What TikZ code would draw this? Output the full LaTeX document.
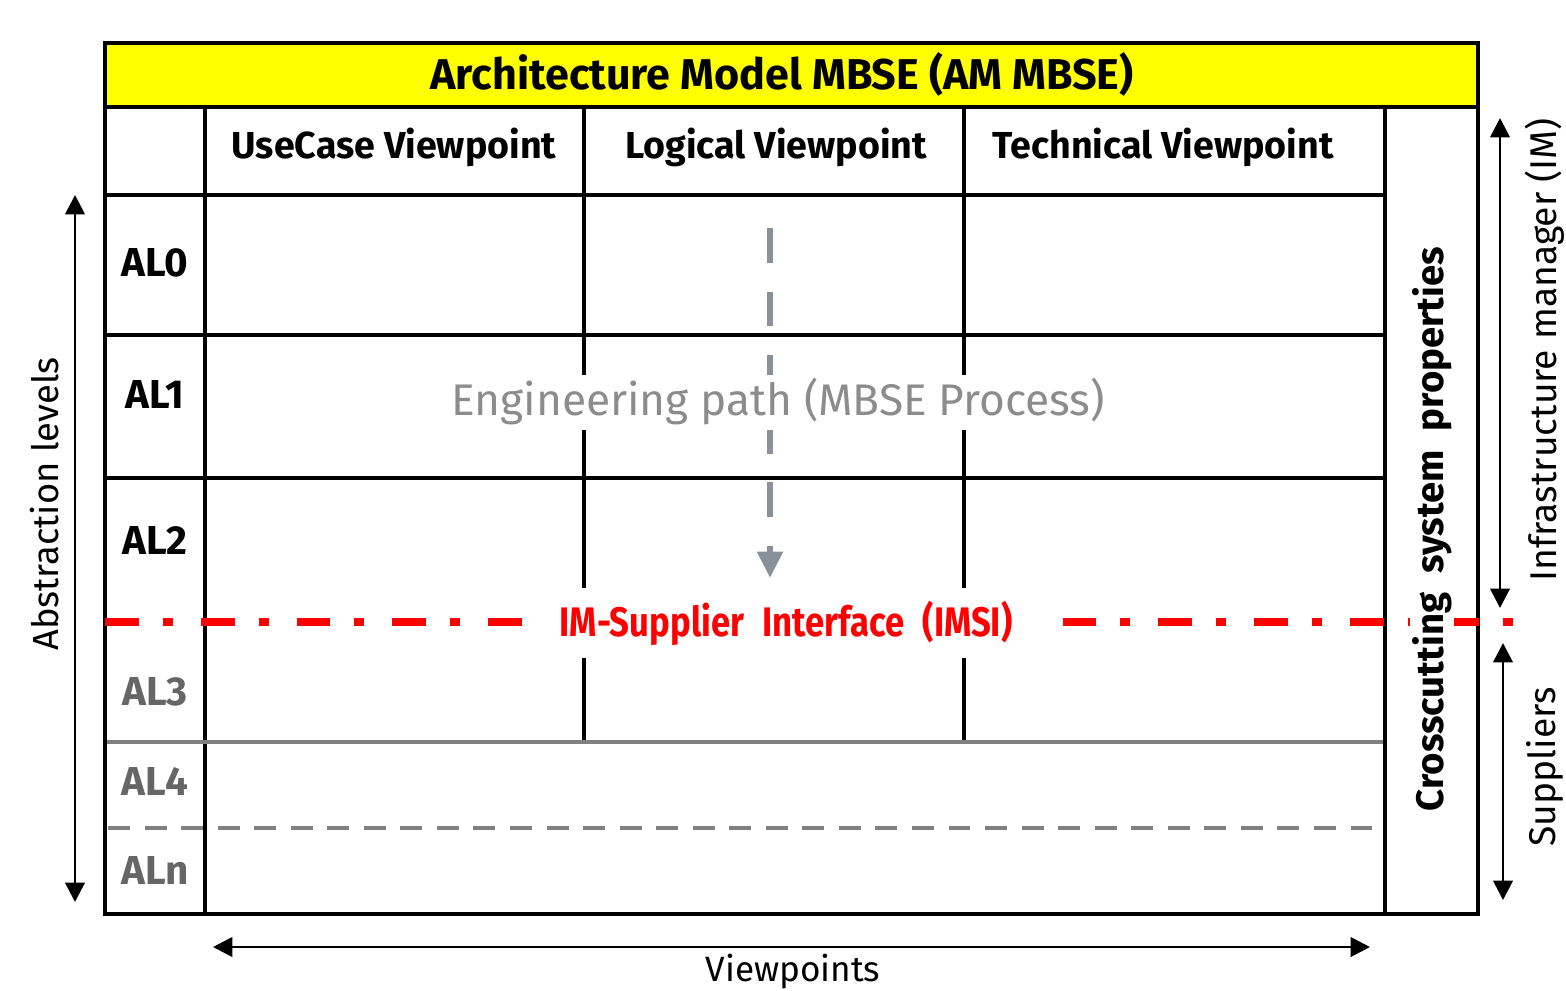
\documentclass[tikz,border=0pt]{standalone}
\usepackage{fontspec}
\setmainfont{Fira Sans}
\newfontfamily\condfont{Fira Sans}[FakeStretch=0.84]
\usetikzlibrary{arrows.meta}
\definecolor{titleyellow}{HTML}{FFFF00}
\definecolor{levelgray}{HTML}{666666}
\definecolor{linegray}{HTML}{808080}
\definecolor{pathgray}{HTML}{8A909A}
\definecolor{pathtext}{HTML}{8C8C8C}
\definecolor{imsired}{HTML}{FF0000}
\begin{document}
\begin{tikzpicture}[x=0.02cm,y=-0.02cm,
  gridline/.style={line width=2.3pt,black},
  dimarrow/.style={line width=1.6pt,{Triangle[length=11pt,width=11pt]}-{Triangle[length=11pt,width=11pt]}},
  colhead/.style={font=\bfseries\fontsize{21.4}{24}\selectfont},
  level/.style={font=\bfseries\fontsize{23}{26}\selectfont},
  sidelabel/.style={font=\fontsize{21.2}{24}\selectfont,rotate=90}]
\useasboundingbox (0,0) rectangle (1566,991);

% title band and outer frame
\fill[titleyellow] (105,43) rectangle (1478,107);
\node[font=\bfseries\fontsize{24.5}{27}\selectfont] (title) at (782,74) {Architecture Model MBSE (AM MBSE)};

% grid of viewpoints and abstraction levels
\draw[gridline] (105,107) -- (1478,107);
\foreach \yy in {195,335,478} \draw[gridline] (105,\yy) -- (1387,\yy);
\draw[gridline] (205,107) -- (205,914);
\draw[gridline] (1385,107) -- (1385,914);
\draw[gridline] (584,107) -- (584,740);
\draw[gridline] (964,107) -- (964,740);
\draw[line width=2.3pt,linegray] (107,742) -- (1383,742);
\draw[line width=2.3pt,linegray,dash pattern=on 12.5pt off 8.3pt] (108,828) -- (1377,828);
\draw[gridline] (105,43) rectangle (1478,914);

% column headers
\node[colhead] (uc)  at (394,147) {UseCase Viewpoint};
\node[colhead] (lg)  at (776,147) {Logical Viewpoint};
\node[colhead] (tc)  at (1163,147) {Technical Viewpoint};

% abstraction level labels
\node[level] (al0) at (155,263) {AL0};
\node[level] (al1) at (155,394) {AL1};
\node[level] (al2) at (155,540) {AL2};
\node[level,levelgray] (al3) at (155,692) {AL3};
\node[level,levelgray] (al4) at (155,781) {AL4};
\node[level,levelgray] (aln) at (155,870) {ALn};

% engineering path
\coordinate (pathstart) at (770,228);
\coordinate (pathend) at (770,578);
\draw[pathgray,line width=3.6pt,dash pattern=on 19.8pt off 16.4pt,-{Triangle[length=15pt,width=14pt]}] (pathstart) -- (pathend);
\node[fill=white,inner xsep=4pt,inner ysep=0pt,minimum height=1.1cm,text=pathtext,font=\fontsize{25.2}{28}\selectfont] (eng) at (778,402) {Engineering path (MBSE Process)};

% IM-supplier interface
\draw[imsired,line width=4.4pt,dash pattern=on 19.3pt off 13.6pt on 5.7pt off 15.9pt] (105,622) -- (1522,622);
\node[fill=white,inner xsep=15pt,inner ysep=0pt,minimum height=1.4cm,text=imsired,font=\condfont\bfseries\fontsize{23.5}{26}\selectfont] (imsi) at (786,623) {IM-Supplier\hspace{0.45em}Interface\hspace{0.45em}(IMSI)};

% crosscutting column
\node[fill=white,inner sep=1pt,font=\bfseries\fontsize{21.8}{24}\selectfont,rotate=90] (cross) at (1432,529) {Crosscutting\hspace{0.5em}system\hspace{0.5em}properties};

% left axis: abstraction levels
\coordinate (levtop) at (75,195);
\coordinate (levbot) at (75,902);
\draw[dimarrow] (levtop) -- (levbot);
\node[sidelabel,font=\fontsize{20.7}{24}\selectfont] (abs) at (45,504) {Abstraction levels};

% bottom axis: viewpoints
\coordinate (vpl) at (213,947);
\coordinate (vpr) at (1370,947);
\draw[dimarrow] (vpl) -- (vpr);
\node[font=\fontsize{20}{22}\selectfont] (vp) at (793,972) {Viewpoints};

% right axis: responsibilities
\coordinate (imtop) at (1500,118);
\coordinate (imbot) at (1500,608);
\draw[dimarrow] (imtop) -- (imbot);
\node[sidelabel] (im) at (1545,350) {Infrastructure manager (IM)};
\coordinate (suptop) at (1503,643);
\coordinate (supbot) at (1503,900);
\draw[dimarrow] (suptop) -- (supbot);
\node[sidelabel] (sup) at (1545,767) {Suppliers};
\end{tikzpicture}
\end{document}
